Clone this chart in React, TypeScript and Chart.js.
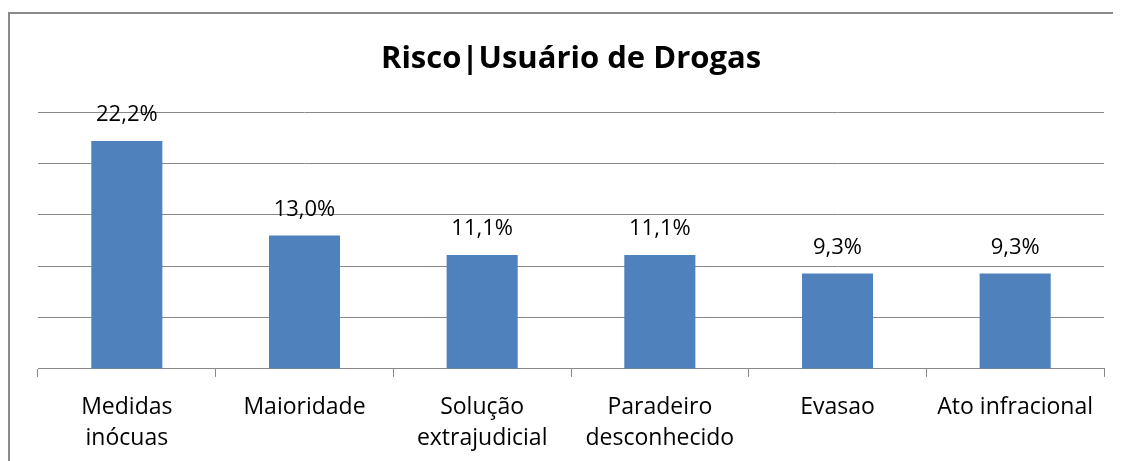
import React, { useEffect, useRef } from "react";
import { Chart, registerables } from "chart.js";

Chart.register(...registerables);

const categories: string[][] = [
  ["Medidas", "inócuas"],
  ["Maioridade"],
  ["Solução", "extrajudicial"],
  ["Paradeiro", "desconhecido"],
  ["Evasao"],
  ["Ato infracional"],
];
const values: number[] = [22.2, 13.0, 11.1, 11.1, 9.3, 9.3];
const valueLabels: string[] = ["22,2%", "13,0%", "11,1%", "11,1%", "9,3%", "9,3%"];
const titleText = "Risco|Usuário de Drogas";
const FONT = "'Open Sans', sans-serif";

const dataLabelPlugin = {
  id: "dataLabels",
  afterDatasetsDraw(chart: any) {
    const ctx = chart.ctx;
    const meta = chart.getDatasetMeta(0);
    ctx.save();
    ctx.font = `22px ${FONT}`;
    ctx.fillStyle = "#000";
    ctx.textAlign = "center";
    ctx.textBaseline = "middle";
    meta.data.forEach((bar: any, i: number) => {
      ctx.fillText(valueLabels[i], bar.x, bar.y - 26);
    });
    ctx.restore();
  },
};

export default function App() {
  const ref = useRef<HTMLCanvasElement | null>(null);
  useEffect(() => {
    document.documentElement.style.overflow = "hidden";
    document.body.style.overflow = "hidden";
    const chart = new Chart(ref.current!, {
      type: "bar",
      data: {
        labels: categories,
        datasets: [
          {
            data: values,
            backgroundColor: "#4F81BD",
            barPercentage: 0.4,
            categoryPercentage: 1,
          },
        ],
      },
      options: {
        animation: false,
        responsive: false,
        maintainAspectRatio: false,
        layout: { padding: { left: 28, right: 12, top: 0, bottom: 11 } },
        plugins: {
          legend: { display: false },
          tooltip: { enabled: false },
          title: {
            display: true,
            text: titleText,
            color: "#000",
            font: { family: FONT, size: 31, weight: "bold", lineHeight: 1.2 },
            padding: { top: 27, bottom: 34 },
          },
        },
        scales: {
          x: {
            grid: {
              offset: true,
              drawOnChartArea: false,
              drawTicks: true,
              tickLength: 8,
              color: "#888",
            },
            border: { display: true, color: "#888", width: 1 },
            ticks: {
              color: "#000",
              font: { family: FONT, size: 23, lineHeight: 1.35 },
              padding: 15,
              maxRotation: 0,
              autoSkip: false,
            },
          },
          y: {
            min: 0,
            max: 25,
            ticks: { display: false, stepSize: 5 },
            grid: { color: "#888", drawTicks: false },
            border: { display: false },
          },
        },
      },
      plugins: [dataLabelPlugin],
    });
    return () => chart.destroy();
  }, []);
  return (
    <div
      style={{
        marginTop: 4,
        width: 1110,
        height: 470,
        border: "2px solid #8a8a8a",
        boxSizing: "border-box",
        background: "#fff",
      }}
    >
      <canvas ref={ref} width={1106} height={466} style={{ display: "block" }} />
    </div>
  );
}
